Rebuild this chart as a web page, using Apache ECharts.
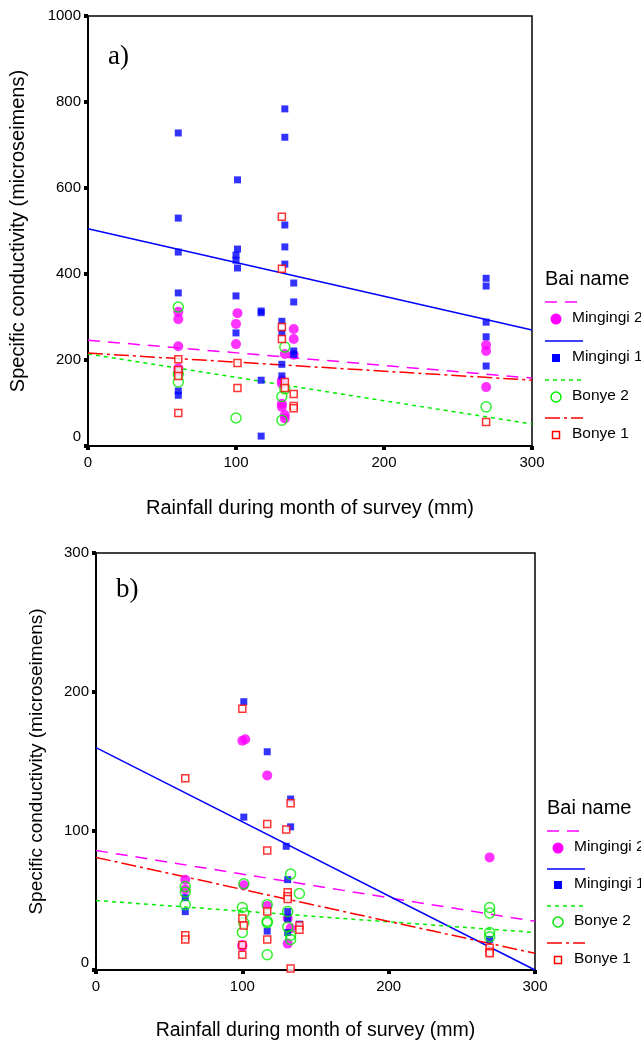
<!DOCTYPE html>
<html>
<head>
<meta charset="utf-8">
<script src="https://cdn.jsdelivr.net/npm/echarts@6/dist/echarts.min.js"></script>
<style>html,body{margin:0;padding:0;background:#fff}#c{width:641px;height:1046px}</style>
</head>
<body>
<div id="c"></div>
<script>
// ---------- Panel a) data : [rainfall (mm), conductivity] ----------
var a_mingingi2 = [[61,312],[61,295],[61,232],[61,181],[61,172],[101,309],[100,284],[100,237],
  [131,153],[131,145],[131,98],[131,91],[133,72],[133,64],[133,214],[139,272],[139,249],[139,212],
  [269,235],[269,221],[269,137]];
var a_mingingi1 = [[61,728],[61,530],[61,451],[61,356],[61,128],[61,118],
  [101,619],[101,458],[100,444],[100,432],[101,414],[100,349],[100,263],
  [117,314],[117,310],[117,153],[117,23],
  [133,784],[133,718],[133,514],[133,463],[133,423],[131,290],[131,263],[131,190],[131,163],
  [139,379],[139,335],[139,221],[139,213],
  [269,390],[269,372],[269,288],[269,254],[269,186]];
var a_bonye2 = [[61,323],[61,167],[61,149],[100,65],[133,230],[131,115],[133,133],[131,60],[269,91]];
var a_bonye1 = [[61,202],[61,177],[61,163],[61,77],[101,193],[101,135],
  [131,533],[131,412],[131,277],[131,249],[133,149],[133,135],[139,121],[139,93],[139,88],[269,56]];
var a_fit_mingingi2 = [[0,246],[300,158]];
var a_fit_mingingi1 = [[0,505],[300,270]];
var a_fit_bonye2 = [[0,214],[300,51]];
var a_fit_bonye1 = [[0,216],[300,153]];

// ---------- Panel b) data ----------
var b_mingingi2 = [[61,65],[61,58],[100,165],[102,166],[101,61],[100,18],[100,17],
  [117,140],[117,46],[131,37],[133,30],[131,19],[269,81]];
var b_mingingi1 = [[61,52],[61,42],[101,193],[101,110],[117,157],[117,28],
  [133,123],[133,103],[130,89],[131,65],[131,42],[131,37],[131,27],[139,33],[269,22]];
var b_bonye2 = [[61,60],[61,56],[61,47],[101,62],[100,45],[101,41],[101,34],[100,27],
  [117,47],[117,35],[117,34],[117,11],[133,69],[131,42],[131,31],[133,25],[133,22],
  [139,55],[269,45],[269,41],[269,27],[269,24]];
var b_bonye1 = [[61,138],[61,25],[61,22],[100,188],[100,37],[101,32],[100,18],[100,11],
  [117,105],[117,86],[117,42],[117,22],[130,101],[133,120],[131,56],[131,53],[131,51],[133,1],
  [139,32],[139,29],[269,16],[269,13],[269,12]];
var b_fit_mingingi2 = [[0,86],[300,35]];
var b_fit_mingingi1 = [[0,160],[300,0]];
var b_fit_bonye2 = [[0,50],[300,27]];
var b_fit_bonye1 = [[0,81],[300,12]];

var xTicks = [0,100,200,300];
var legendNames = ['Mingingi 2','Mingingi 1','Bonye 2','Bonye 1'];
var xTitle = 'Rainfall during month of survey (mm)';
var yTitle = 'Specific conductivity (microseimens)';

var C = {m2:'#ff00ff', m1:'#0000ff', b2:'#00ee00', b1:'#ff0000'};
var DASH = {m2:[12,8], m1:'solid', b2:[4,4], b1:[15,4,3,4]};
var FONT = 'Liberation Sans, Arial, sans-serif';

function xAxisOf(gi, gap, fs){
  return {gridIndex:gi, type:'value', min:0, max:300, interval:100,
    axisLine:{show:true, onZero:false, lineStyle:{color:'#000', width:2}},
    axisTick:{show:true, inside:false, length:4, lineStyle:{color:'#000', width:4}},
    axisLabel:{color:'#000', fontSize:15, fontFamily:FONT, margin:9, formatter:function(v){return String(v);}},
    splitLine:{show:false},
    name:xTitle, nameLocation:'middle', nameGap:gap,
    nameTextStyle:{color:'#000', fontSize:fs, fontFamily:FONT, verticalAlign:'top'}};
}
function yAxisOf(gi, max, interval, gap, fs, zpad){
  return {gridIndex:gi, type:'value', min:0, max:max, interval:interval,
    axisLine:{show:true, onZero:false, lineStyle:{color:'#000', width:2}},
    axisTick:{show:true, inside:false, length:4, lineStyle:{color:'#000', width:4}},
    axisLabel:{color:'#000', fontSize:15, fontFamily:FONT, margin:7,
      formatter:function(v){return v===0 ? '{z|0}' : String(v);},
      rich:{z:{color:'#000', fontSize:15, fontFamily:FONT, padding:[0,0,zpad,0]}}},
    splitLine:{show:false},
    name:yTitle, nameLocation:'middle', nameGap:gap, nameRotate:90,
    nameTextStyle:{color:'#000', fontSize:fs, fontFamily:FONT}};
}
function fitSeries(gi, data, key){
  return {type:'line', xAxisIndex:gi, yAxisIndex:gi, data:data, symbol:'none', silent:true,
    lineStyle:{color:C[key], width:1.5, type:DASH[key]}, z:3};
}
function pts(gi, data, key){
  var s = {type:'scatter', xAxisIndex:gi, yAxisIndex:gi, data:data, z:4};
  if(key==='m2'){ s.symbol='circle'; s.symbolSize=10; s.itemStyle={color:C.m2}; }
  if(key==='m1'){ s.symbol='rect'; s.symbolSize=7; s.itemStyle={color:C.m1}; }
  if(key==='b2'){ s.symbol='circle'; s.symbolSize=10; s.itemStyle={color:'rgba(255,255,255,0)', borderColor:C.b2, borderWidth:1.5}; }
  if(key==='b1'){ s.symbol='rect'; s.symbolSize=7; s.itemStyle={color:'#fff', borderColor:C.b1, borderWidth:1.5}; }
  return s;
}

function legendGraphics(x0, yTitleY, lineYs, markYs){
  var g = [];
  g.push({type:'text', left:x0, top:yTitleY-11, style:{text:'Bai name', fontSize:20, fontFamily:FONT, fill:'#000'}});
  var keys = ['m2','m1','b2','b1'];
  keys.forEach(function(k,i){
    var ly = lineYs[i], my = markYs[i];
    var dash = DASH[k]==='solid' ? null : DASH[k];
    g.push({type:'line', shape:{x1:x0, y1:ly, x2:x0+38, y2:ly},
      style:{stroke:C[k], lineWidth:1.5, lineDash:dash}});
    var mx = x0+11;
    if(k==='m2') g.push({type:'circle', shape:{cx:mx, cy:my, r:5.5}, style:{fill:C.m2}});
    if(k==='m1') g.push({type:'rect', shape:{x:mx-4, y:my-4, width:8, height:8}, style:{fill:C.m1}});
    if(k==='b2') g.push({type:'circle', shape:{cx:mx, cy:my, r:5}, style:{fill:'none', stroke:C.b2, lineWidth:1.5}});
    if(k==='b1') g.push({type:'rect', shape:{x:mx-3.5, y:my-3.5, width:7, height:7}, style:{fill:'#fff', stroke:C.b1, lineWidth:1.5}});
    g.push({type:'text', left:x0+27, top:my-9, style:{text:legendNames[i], fontSize:15.5, fontFamily:FONT, fill:'#000'}});
  });
  return g;
}

var graphics = [
  {type:'text', left:108, top:43, style:{text:'a)', fontSize:27, fontFamily:'Liberation Serif, Times New Roman, serif', fill:'#000'}},
  {type:'text', left:116, top:576, style:{text:'b)', fontSize:27, fontFamily:'Liberation Serif, Times New Roman, serif', fill:'#000'}}
].concat(
  legendGraphics(545, 280, [302,341,380,418], [319,358,397,435]),
  legendGraphics(547, 809, [831,869,906,943], [848,885,922,960])
);

var chart = echarts.init(document.getElementById('c'), null, {renderer:'canvas'});
chart.setOption({
  animation:false,
  backgroundColor:'#fff',
  grid:[
    {left:88, top:16, width:444, height:430, show:true, borderColor:'#000', borderWidth:1.5, backgroundColor:'#fff', containLabel:false, outerBoundsMode:'none'},
    {left:96, top:553, width:439, height:417, show:true, borderColor:'#000', borderWidth:1.5, backgroundColor:'#fff', containLabel:false, outerBoundsMode:'none'}
  ],
  xAxis:[xAxisOf(0,52,20), xAxisOf(1,51,19.5)],
  yAxis:[yAxisOf(0,1000,200,60,20,18), yAxisOf(1,300,100,50,19,14)],
  series:[
    fitSeries(0,a_fit_mingingi2,'m2'), fitSeries(0,a_fit_mingingi1,'m1'),
    fitSeries(0,a_fit_bonye2,'b2'), fitSeries(0,a_fit_bonye1,'b1'),
    pts(0,a_mingingi2,'m2'), pts(0,a_mingingi1,'m1'), pts(0,a_bonye2,'b2'), pts(0,a_bonye1,'b1'),
    fitSeries(1,b_fit_mingingi2,'m2'), fitSeries(1,b_fit_mingingi1,'m1'),
    fitSeries(1,b_fit_bonye2,'b2'), fitSeries(1,b_fit_bonye1,'b1'),
    pts(1,b_mingingi2,'m2'), pts(1,b_mingingi1,'m1'), pts(1,b_bonye2,'b2'), pts(1,b_bonye1,'b1')
  ],
  graphic:graphics
});
</script>
</body>
</html>
